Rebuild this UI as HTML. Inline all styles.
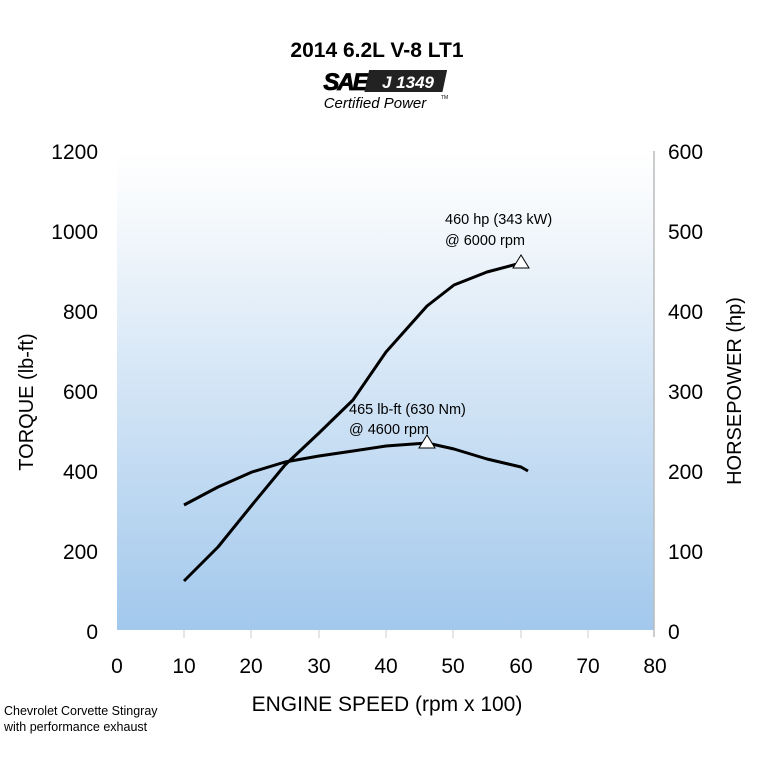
<!DOCTYPE html>
<html><head><meta charset="utf-8"><style>
body{margin:0;background:#fff;}
svg{display:block;font-family:"Liberation Sans",Arial,sans-serif;}
</style></head><body>
<svg width="757" height="763" viewBox="0 0 757 763" xmlns="http://www.w3.org/2000/svg">
<defs><linearGradient id="g" x1="0" y1="0" x2="0" y2="1">
<stop offset="0" stop-color="#ffffff"/><stop offset="0.15" stop-color="#f4f8fc"/><stop offset="1" stop-color="#a2c8ec"/></linearGradient></defs>
<text x="377" y="57" font-size="21" font-weight="bold" text-anchor="middle">2014 6.2L V-8 LT1</text>
<text x="345" y="90" font-size="24" font-weight="900" font-style="italic" text-anchor="middle" letter-spacing="-2" stroke="#000" stroke-width="0.8">SAE</text>
<rect x="368" y="70" width="78" height="22" fill="#222" transform="skewX(-12) translate(16,0)"/>
<text x="408" y="88" font-size="17" font-weight="bold" font-style="italic" fill="#fff" text-anchor="middle">J 1349</text>
<text x="375" y="108" font-size="15" font-style="italic" text-anchor="middle">Certified Power</text>
<text x="441" y="99" font-size="5">TM</text>
<rect x="117" y="151" width="537" height="479" fill="url(#g)"/>
<line x1="654" y1="151" x2="654" y2="637" stroke="#bbb" stroke-width="1.5"/>
<g stroke="#ccc" stroke-width="1">
<line x1="184" y1="630" x2="184" y2="638"/><line x1="251" y1="630" x2="251" y2="638"/><line x1="319" y1="630" x2="319" y2="638"/><line x1="386" y1="630" x2="386" y2="638"/><line x1="453" y1="630" x2="453" y2="638"/><line x1="521" y1="630" x2="521" y2="638"/><line x1="588" y1="630" x2="588" y2="638"/></g>
<g font-size="21" text-anchor="end">
<text x="98" y="159">1200</text><text x="98" y="239">1000</text><text x="98" y="319">800</text><text x="98" y="399">600</text><text x="98" y="479">400</text><text x="98" y="559">200</text><text x="98" y="639">0</text></g>
<g font-size="21" text-anchor="start">
<text x="668" y="159">600</text><text x="668" y="239">500</text><text x="668" y="319">400</text><text x="668" y="399">300</text><text x="668" y="479">200</text><text x="668" y="559">100</text><text x="668" y="639">0</text></g>
<g font-size="21" text-anchor="middle">
<text x="117" y="673">0</text><text x="184" y="673">10</text><text x="251" y="673">20</text><text x="319" y="673">30</text><text x="386" y="673">40</text><text x="453" y="673">50</text><text x="521" y="673">60</text><text x="588" y="673">70</text><text x="655" y="673">80</text></g>
<text x="387" y="711" font-size="21" text-anchor="middle">ENGINE SPEED (rpm x 100)</text>
<text transform="translate(33,402) rotate(-90)" font-size="20" text-anchor="middle">TORQUE (lb-ft)</text>
<text transform="translate(741,391) rotate(-90)" font-size="20" text-anchor="middle">HORSEPOWER (hp)</text>
<text x="4" y="715" font-size="12.5">Chevrolet Corvette Stingray</text>
<text x="4" y="731" font-size="12.5">with performance exhaust</text>
<polyline fill="none" stroke="#000" stroke-width="3" stroke-linejoin="round" points="184,505 218,487 252,472 285,462 319,456 353,451 386,446 427,443 454,449 487,459 521,467 528,471"/>
<polyline fill="none" stroke="#000" stroke-width="3" stroke-linejoin="round" points="184,581 218,547 252,505 285,465 319,433 353,400 386,352 427,306 454,285 487,272 521,263"/>
<polygon points="521,255 513,268 529,268" fill="#fff" stroke="#000" stroke-width="1"/>
<polygon points="427,435 419,448 435,448" fill="#fff" stroke="#000" stroke-width="1"/>
<text x="445" y="224" font-size="14.5">460 hp (343 kW)</text>
<text x="445" y="245" font-size="14.5">@ 6000 rpm</text>
<text x="349" y="414" font-size="14.5">465 lb-ft (630 Nm)</text>
<text x="349" y="434" font-size="14.5">@ 4600 rpm</text>
</svg>
</body></html>
